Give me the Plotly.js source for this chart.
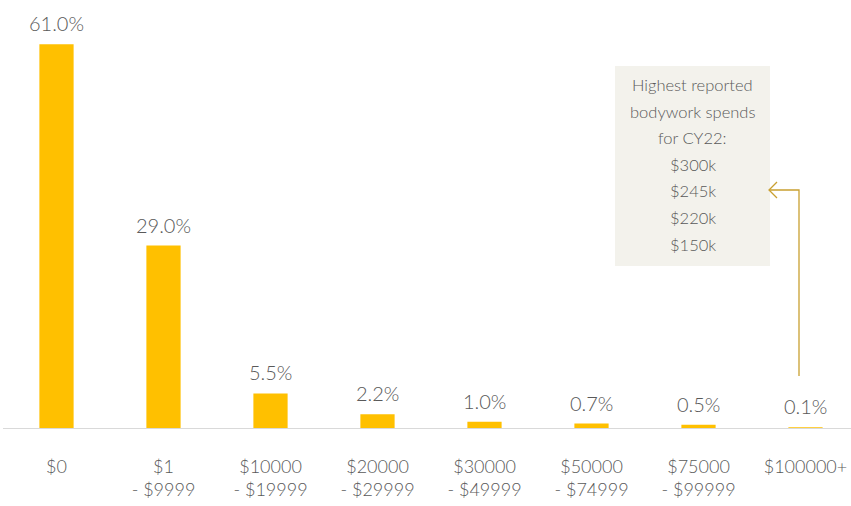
<!DOCTYPE html>
<html>
<head>
<meta charset="utf-8">
<script src="https://cdn.plot.ly/plotly-3.0.1.min.js"></script>
<style>html,body{margin:0;padding:0;background:#fff;}#chart{width:851px;height:506px;}</style>
</head>
<body>
<div id="chart"></div>
<script>
const categories = ["$0", "$1<br>- $9999", "$10000<br>- $19999", "$20000<br>- $29999", "$30000<br>- $49999", "$50000<br>- $74999", "$75000<br>- $99999", "$100000+"];
const shares = [61.0, 29.0, 5.5, 2.2, 1.0, 0.7, 0.5, 0.1];
const shareLabels = ["61.0%", "29.0%", "5.5%", "2.2%", "1.0%", "0.7%", "0.5%", "0.1%"];
const noteLines = ["Highest reported", "bodywork spends", "for CY22:", "$300k", "$245k", "$220k", "$150k"];

const FONT = "Lato, 'Open Sans', sans-serif";
const GREY = "#595959";
const GOLD = "#C9A031";

// pixel -> data helpers (plot area: x from 3 to 851, y baseline at 428)
const pxPerCat = 107, pxPerUnit = 6.29, left = 3, base = 428;
const dx = px => (px - left) / pxPerCat - 0.5;
const dy = py => (base - py) / pxPerUnit;

const trace = {
  type: "bar",
  x: categories.map((c, i) => i),
  y: shares,
  width: 0.32,
  marker: {color: "#FFC000"},
  hoverinfo: "skip"
};

const annotations = shares.map((v, i) => ({
  x: i, y: v, xref: "x", yref: "y",
  text: shareLabels[i], showarrow: false,
  yanchor: "middle", yshift: 21,
  font: {family: FONT, size: 20, color: GREY, weight: 300}
}));

noteLines.forEach((t, i) => {
  annotations.push({
    x: dx(692.5), y: dy(85 + i * 26.6), xref: "x", yref: "y",
    text: t, showarrow: false, yanchor: "middle",
    font: {family: FONT, size: 16.5, color: GREY, weight: 300}
  });
});

const shapes = [
  {type: "rect", xref: "x", yref: "y", layer: "below",
   x0: dx(615), x1: dx(770), y0: dy(66), y1: dy(266),
   fillcolor: "#F3F2EC", line: {width: 0}},
  {type: "path", xref: "x", yref: "y",
   path: `M ${dx(799)} ${dy(376)} L ${dx(799)} ${dy(190)} L ${dx(769)} ${dy(190)}`,
   line: {color: GOLD, width: 1.3}},
  {type: "path", xref: "x", yref: "y",
   path: `M ${dx(777)} ${dy(182)} L ${dx(769)} ${dy(190)} L ${dx(777)} ${dy(198)}`,
   line: {color: GOLD, width: 1.3}}
];

const layout = {
  width: 851, height: 506,
  margin: {l: 3, r: 0, t: 10, b: 78},
  paper_bgcolor: "#ffffff", plot_bgcolor: "#ffffff",
  showlegend: false,
  xaxis: {
    range: [-0.5, -0.5 + 848 / pxPerCat],
    tickmode: "array",
    tickvals: categories.map((c, i) => i),
    ticktext: categories,
    showline: true, linecolor: "#D9D9D9", linewidth: 1.3,
    showgrid: false, zeroline: false,
    ticks: "outside", ticklen: 22, tickcolor: "rgba(0,0,0,0)",
    tickfont: {family: FONT, size: 18, color: GREY, weight: 300}
  },
  yaxis: {
    range: [0, 418 / pxPerUnit],
    visible: false, showgrid: false, zeroline: false
  },
  annotations: annotations,
  shapes: shapes
};

Plotly.newPlot("chart", [trace], layout, {displayModeBar: false, staticPlot: true});
</script>
</body>
</html>
